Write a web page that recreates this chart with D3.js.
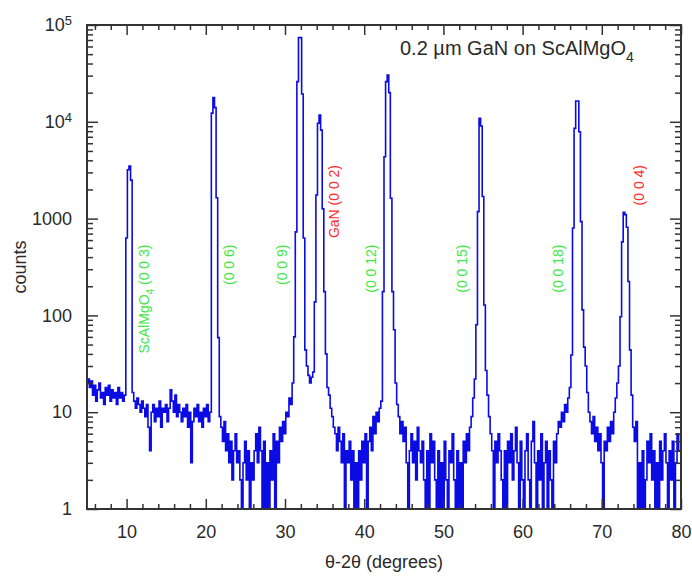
<!DOCTYPE html>
<html>
<head>
<meta charset="utf-8">
<script src="https://cdn.jsdelivr.net/npm/d3@7/dist/d3.min.js"></script>
<style>
  body { margin: 0; background: #fff; }
  svg { display: block; font-family: Arial, "Liberation Sans", sans-serif; }
</style>
</head>
<body>
<script>
// theta-2theta scan, 0.2 deg steps, counts
const scanStep = 0.2;

// 5.0 - 10.8  (ScAlMgO4 003)
const seg05 = [20, 22, 18, 21, 15, 19, 13, 17, 20, 14, 16, 12, 18, 15, 19,
  13, 17, 14, 16, 12, 18, 14, 16, 13, 15, 630, 3200, 3500, 2500, 16];
// 11.0 - 21.8  (006)
const seg11 = [13, 11, 14, 12, 10, 13, 11, 9, 12, 7, 4, 10, 12, 8, 11,
  9, 13, 7, 11, 10, 12, 8, 11, 17, 13, 10, 15, 9, 12, 10,
  8, 11, 9, 12, 7, 10, 3, 8, 11, 9, 12, 8, 10, 7, 11,
  9, 12, 8, 10, 12300, 17800, 14000, 1640, 59, 9];
// 22.0 - 35.8  (009 + GaN 002)
const seg22 = [7, 5, 8, 4, 6, 3, 5, 2, 4, 6, 3, 4, 2, 1, 3,
  5, 2, 4, 1, 3, 2, 4, 6, 3, 7, 4, 1, 5, 1, 3,
  1, 4, 2, 6, 1, 5, 3, 7, 5, 8, 6, 10, 9, 14, 12,
  20, 60, 730, 26000, 74000, 74000, 19400, 630, 44, 30,
  24, 20, 23, 26, 138, 1750, 9650, 11750, 8200, 1260,
  176, 40, 18, 15, 11];
// 36.0 - 44.8  (0012)
const seg36 = [9, 7, 6, 4, 7, 5, 3, 6, 1, 4, 3, 5, 2, 4, 1,
  3, 1, 4, 2, 5, 3, 6, 1, 5, 7, 4, 9, 6, 10, 8,
  11, 13, 176, 4360, 26000, 30400, 20000, 1620, 176, 71,
  20, 12, 9, 6, 8];
// 45.0 - 55.8  (0015)
const seg45 = [5, 7, 3, 1, 4, 6, 3, 5, 2, 7, 4, 3, 5, 2, 1,
  4, 1, 6, 3, 5, 2, 1, 4, 1, 3, 1, 5, 2, 1, 4,
  3, 6, 2, 1, 4, 1, 3, 1, 5, 3, 6, 4, 7, 9, 14,
  22, 80, 1180, 10900, 9050, 1690, 128, 27, 15, 9];
// 56.0 - 68.8  (0018)
const seg56 = [6, 4, 1, 5, 3, 6, 4, 2, 1, 4, 1, 5, 3, 6, 2,
  4, 7, 3, 1, 5, 2, 1, 4, 6, 2, 1, 5, 8, 3, 1,
  4, 2, 6, 1, 3, 5, 1, 4, 2, 1, 5, 3, 6, 8, 7,
  10, 8, 12, 10, 14, 18, 39, 800, 8550, 16400,
  16400, 7900, 930, 114, 47, 30, 16, 10, 8, 6];
// 69.0 - 73.8  (GaN 004)
const seg69 = [9, 5, 7, 4, 6, 3, 1, 5, 4, 7, 5, 8, 6, 10, 14,
  20, 30, 97, 575, 1160, 1100, 815, 224, 44, 15];
// 74.0 - 80.0
const seg74 = [7, 5, 8, 1, 3, 1, 4, 1, 2, 5, 3, 6, 2, 4, 1,
  3, 1, 5, 2, 4, 6, 3, 1, 4, 2, 5, 1, 3, 6, 4, 4];

const segStarts = [5.0, 11.0, 22.0, 36.0, 45.0, 56.0, 69.0, 74.0];
const segCounts = [seg05, seg11, seg22, seg36, seg45, seg56, seg69, seg74];

const xMajor = [10, 20, 30, 40, 50, 60, 70, 80];
const xMinor = [6, 8, 12, 14, 16, 18, 22, 24, 26, 28, 32, 34, 36, 38, 42, 44, 46, 48,
  52, 54, 56, 58, 62, 64, 66, 68, 72, 74, 76, 78];
const yMajor = [1, 10, 100, 1000, 1e4, 1e5];
const yMinorMult = [2, 3, 4, 5, 6, 7, 8, 9];

// peak labels: angle of text baseline, counts at text top
const substrateLabels = [
  { angle: 23.56, top: 540, text: "(0 0 6)" },
  { angle: 30.25, top: 540, text: "(0 0 9)" },
  { angle: 41.49, top: 540, text: "(0 0 12)" },
  { angle: 52.98, top: 540, text: "(0 0 15)" },
  { angle: 65.16, top: 540, text: "(0 0 18)" }
];
const ganLabels = [
  { angle: 36.82, top: 3580, text: "GaN (0 0 2)" },
  { angle: 75.27, top: 3580, text: "(0 0 4)" }
];

const W = 692, H = 583;
const margin = { left: 87, right: 11, top: 25, bottom: 74 };

const svg = d3.select("body").append("svg")
  .attr("width", W).attr("height", H);

const x = d3.scaleLinear().domain([5, 80]).range([margin.left, W - margin.right]);
const y = d3.scaleLog().domain([1, 1e5]).range([H - margin.bottom, margin.top]);

const points = [];
segStarts.forEach((s, k) => {
  segCounts[k].forEach((c, i) => points.push([s + i * scanStep, c]));
});

svg.append("clipPath").attr("id", "plotclip")
  .append("rect")
  .attr("x", x(5)).attr("y", y(1e5))
  .attr("width", x(80) - x(5)).attr("height", y(1) - y(1e5) + 1);

const line = d3.line()
  .x(d => x(d[0]))
  .y(d => y(d[1]))
  .curve(d3.curveStep);

svg.append("path")
  .datum(points)
  .attr("clip-path", "url(#plotclip)")
  .attr("fill", "none")
  .attr("stroke", "#0b0be3")
  .attr("stroke-width", 1.6)
  .attr("stroke-linejoin", "miter")
  .attr("d", line);

// axes (ticks point inward)
const axisColor = "#333";
function styleAxis(g) {
  g.select(".domain").remove();
  g.selectAll(".tick line").attr("stroke", axisColor).attr("stroke-width", 1.5);
  g.selectAll("text").attr("fill", "#2a2a2a").attr("font-size", 18)
    .attr("font-family", "Arial, 'Liberation Sans', sans-serif");
}

const yMinor = [];
[1, 10, 100, 1000, 1e4].forEach(d => yMinorMult.forEach(m => yMinor.push(d * m)));

// bottom
svg.append("g").attr("transform", `translate(0,${y(1)})`)
  .call(d3.axisBottom(x).tickValues(xMajor).tickFormat(d3.format("d"))
    .tickSizeInner(-10).tickSizeOuter(0).tickPadding(16))
  .call(styleAxis);
svg.append("g").attr("transform", `translate(0,${y(1)})`)
  .call(d3.axisBottom(x).tickValues(xMinor).tickFormat("")
    .tickSizeInner(-5).tickSizeOuter(0))
  .call(styleAxis);
// top
svg.append("g").attr("transform", `translate(0,${y(1e5)})`)
  .call(d3.axisTop(x).tickValues(xMajor).tickFormat("")
    .tickSizeInner(-10).tickSizeOuter(0))
  .call(styleAxis);
svg.append("g").attr("transform", `translate(0,${y(1e5)})`)
  .call(d3.axisTop(x).tickValues(xMinor).tickFormat("")
    .tickSizeInner(-5).tickSizeOuter(0))
  .call(styleAxis);
// left
const yAxisG = svg.append("g").attr("transform", `translate(${x(5)},0)`)
  .call(d3.axisLeft(y).tickValues(yMajor).tickFormat(d => d >= 1e4 ? "" : d3.format("d")(d))
    .tickSizeInner(-11).tickSizeOuter(0).tickPadding(15))
  .call(styleAxis);
yAxisG.selectAll(".tick text").each(function (d) {
  if (d >= 1e4) {
    const t = d3.select(this);
    t.append("tspan").text("10");
    t.append("tspan").text(Math.round(Math.log10(d)))
      .attr("font-size", 13).attr("dy", "-0.5em");
  }
});
svg.append("g").attr("transform", `translate(${x(5)},0)`)
  .call(d3.axisLeft(y).tickValues(yMinor).tickFormat("")
    .tickSizeInner(-6).tickSizeOuter(0))
  .call(styleAxis);
// right
svg.append("g").attr("transform", `translate(${x(80)},0)`)
  .call(d3.axisRight(y).tickValues(yMajor).tickFormat("")
    .tickSizeInner(-11).tickSizeOuter(0))
  .call(styleAxis);
svg.append("g").attr("transform", `translate(${x(80)},0)`)
  .call(d3.axisRight(y).tickValues(yMinor).tickFormat("")
    .tickSizeInner(-6).tickSizeOuter(0))
  .call(styleAxis);

// frame
svg.append("rect")
  .attr("x", x(5)).attr("y", y(1e5))
  .attr("width", x(80) - x(5)).attr("height", y(1) - y(1e5))
  .attr("fill", "none").attr("stroke", axisColor).attr("stroke-width", 2);

// axis titles
svg.append("text")
  .attr("x", (x(5) + x(80)) / 2).attr("y", 568)
  .attr("text-anchor", "middle").attr("font-size", 18).attr("fill", "#2a2a2a")
  .text("θ-2θ (degrees)");
svg.append("text")
  .attr("transform", `translate(26,267) rotate(-90)`)
  .attr("text-anchor", "middle").attr("font-size", 18).attr("fill", "#2a2a2a")
  .text("counts");

// sample title
const title = svg.append("text")
  .attr("x", 400).attr("y", 55)
  .attr("font-size", 20).attr("fill", "#2a2a2a");
title.append("tspan").text("0.2 µm GaN on ScAlMgO");
title.append("tspan").text("4").attr("font-size", 14).attr("dy", 7);

// peak labels
const green = "#3ee83e", red = "#ff2b2b";
const sub = svg.append("text")
  .attr("transform", `translate(${x(12.83)},${y(540)}) rotate(-90)`)
  .attr("text-anchor", "end").attr("font-size", 14).attr("fill", green);
sub.append("tspan").text("ScAlMgO");
sub.append("tspan").text("4").attr("font-size", 10).attr("dy", 5);
sub.append("tspan").text(" (0 0 3)").attr("dy", -5);

svg.selectAll("text.sublabel")
  .data(substrateLabels).enter().append("text")
  .attr("class", "sublabel")
  .attr("transform", d => `translate(${x(d.angle)},${y(d.top)}) rotate(-90)`)
  .attr("text-anchor", "end").attr("font-size", 14).attr("fill", green)
  .text(d => d.text);

svg.selectAll("text.ganlabel")
  .data(ganLabels).enter().append("text")
  .attr("class", "ganlabel")
  .attr("transform", d => `translate(${x(d.angle)},${y(d.top)}) rotate(-90)`)
  .attr("text-anchor", "end").attr("font-size", 14).attr("fill", red)
  .text(d => d.text);
</script>
</body>
</html>
